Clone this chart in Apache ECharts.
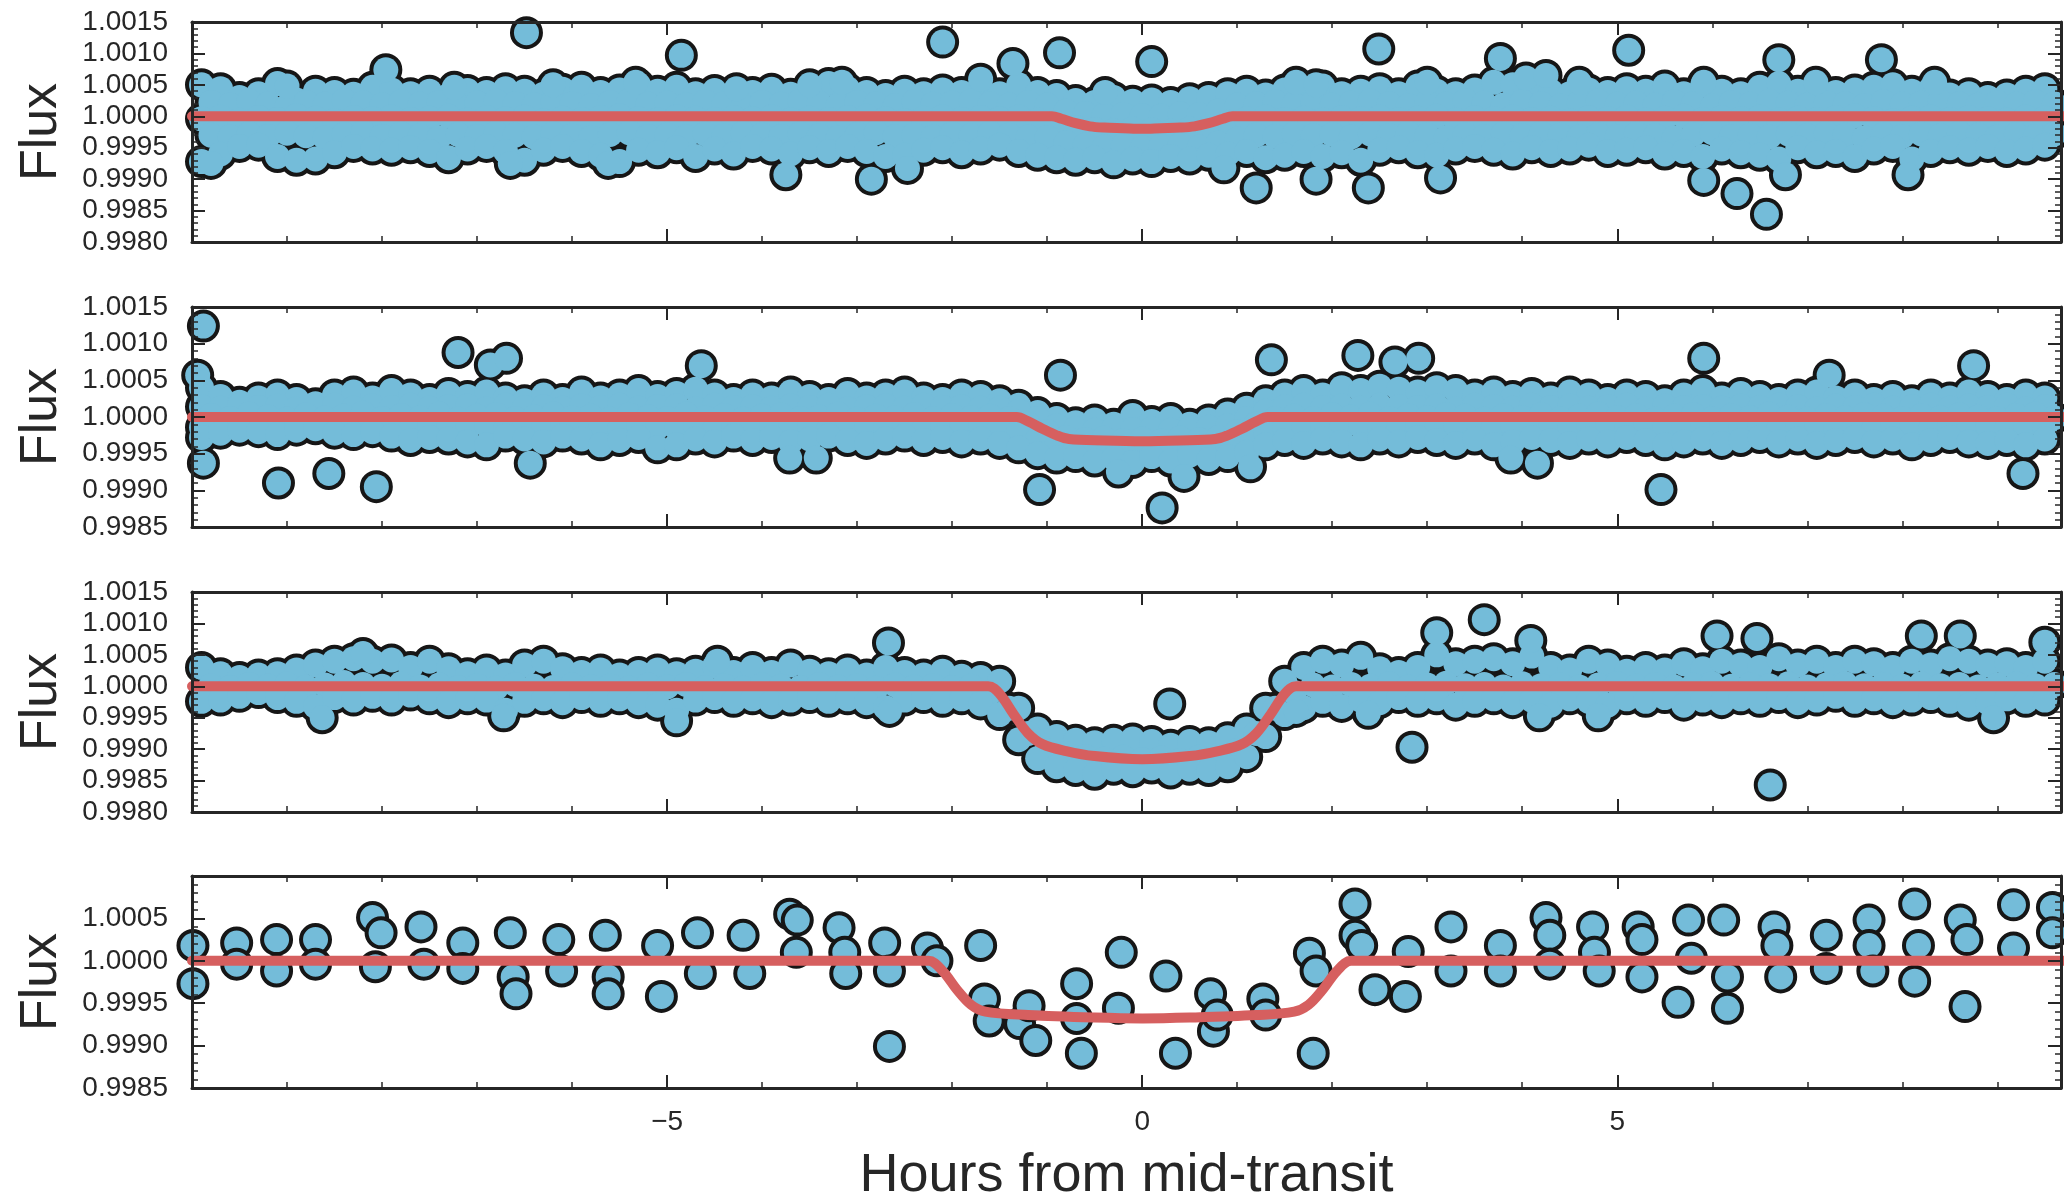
<!DOCTYPE html>
<html><head><meta charset="utf-8">
<script src="https://cdn.jsdelivr.net/npm/echarts@6/dist/echarts.min.js"></script>
<style>html,body{margin:0;padding:0;background:#fff}#c{width:2064px;height:1204px}</style>
</head><body><div id="c"></div><script>
// ---------- data (hours from mid-transit, relative flux) ----------
const denseTimeA = [-9.9,-9.7,-9.5,-9.3,-9.1,-8.9,-8.7,-8.5,-8.3,-8.1,
-7.9,-7.7,-7.5,-7.3,-7.1,-6.9,-6.7,-6.5,-6.3,-6.1,
-5.9,-5.7,-5.5,-5.3,-5.1,-4.9,-4.7,-4.5,-4.3,-4.1,
-3.9,-3.7,-3.5,-3.3,-3.1,-2.9,-2.7,-2.5,-2.3,-2.1,
-1.9,-1.7,-1.5,-1.3,-1.1,-0.9,-0.7,-0.5,-0.3,-0.1,
0.1,0.3,0.5,0.7,0.9,1.1,1.3,1.5,1.7,1.9,
2.1,2.3,2.5,2.7,2.9,3.1,3.3,3.5,3.7,3.9,
4.1,4.3,4.5,4.7,4.9,5.1,5.3,5.5,5.7,5.9,
6.1,6.3,6.5,6.7,6.9,7.1,7.3,7.5,7.7,7.9,
8.1,8.3,8.5,8.7,8.9,9.1,9.3,9.5,9.7];
const denseTimeB = [-9.8,-9.6,-9.4,-9.2,-9.0,-8.8,-8.6,-8.4,-8.2,-8.0,
-7.8,-7.6,-7.4,-7.2,-7.0,-6.8,-6.6,-6.4,-6.2,-6.0,
-5.8,-5.6,-5.4,-5.2,-5.0,-4.8,-4.6,-4.4,-4.2,-4.0,
-3.8,-3.6,-3.4,-3.2,-3.0,-2.8,-2.6,-2.4,-2.2,-2.0,
-1.8,-1.6,-1.4,-1.2,-1.0,-0.8,-0.6,-0.4,-0.2,0.0,
0.2,0.4,0.6,0.8,1.0,1.2,1.4,1.6,1.8,2.0,
2.2,2.4,2.6,2.8,3.0,3.2,3.4,3.6,3.8,4.0,
4.2,4.4,4.6,4.8,5.0,5.2,5.4,5.6,5.8,6.0,
6.2,6.4,6.6,6.8,7.0,7.2,7.4,7.6,7.8,8.0,
8.2,8.4,8.6,8.8,9.0,9.2,9.4,9.6];

// Panel 1
const p1Top = [1.00050,1.00044,1.00030,1.00036,1.00052,1.00026,1.00040,1.00038,1.00035,1.00046,
1.00042,1.00036,1.00040,1.00033,1.00041,1.00038,1.00044,1.00040,1.00035,1.00043,
1.00046,1.00038,1.00042,1.00050,1.00040,1.00046,1.00036,1.00041,1.00034,1.00038,
1.00043,1.00035,1.00040,1.00052,1.00044,1.00038,1.00033,1.00040,1.00036,1.00042,
1.00038,1.00044,1.00036,1.00050,1.00038,1.00033,1.00025,1.00022,1.00030,1.00024,
1.00026,1.00022,1.00028,1.00030,1.00036,1.00040,1.00034,1.00042,1.00038,1.00048,
1.00036,1.00040,1.00044,1.00036,1.00048,1.00040,1.00036,1.00042,1.00054,1.00050,
1.00046,1.00040,1.00036,1.00042,1.00038,1.00044,1.00040,1.00048,1.00036,1.00050,
1.00040,1.00036,1.00046,1.00052,1.00040,1.00044,1.00038,1.00042,1.00046,1.00050,
1.00040,1.00044,1.00034,1.00036,1.00030,1.00034,1.00040,1.00044,1.00048];
const p1Upper = [1.00022,1.00018,1.00024,1.00020,1.00016,1.00022,1.00019,1.00025,1.00021,1.00018,
1.00023,1.00019,1.00022,1.00017,1.00021,1.00024,1.00020,1.00018,1.00023,1.00020,
1.00017,1.00022,1.00025,1.00019,1.00021,1.00018,1.00023,1.00020,1.00016,1.00022,
1.00019,1.00024,1.00021,1.00018,1.00022,1.00020,1.00017,1.00023,1.00019,1.00021,
1.00024,1.00020,1.00018,1.00022,1.00018,1.00008,1.00004,1.00002,1.00003,1.00001,
1.00000,1.00004,1.00003,1.00008,1.00018,1.00020,1.00023,1.00019,1.00022,1.00018,
1.00021,1.00024,1.00020,1.00017,1.00022,1.00019,1.00025,1.00021,1.00018,1.00023,
1.00020,1.00017,1.00022,1.00024,1.00019,1.00021,1.00018,1.00023,1.00020,1.00016,
1.00022,1.00019,1.00024,1.00021,1.00018,1.00022,1.00020,1.00017,1.00023,1.00019,
1.00021,1.00024,1.00020,1.00018,1.00022,1.00019,1.00023,1.00020];
const p1Middle = [0.99996,0.99999,0.99994,0.99998,0.99995,1.00001,0.99997,0.99993,0.99998,0.99996,
0.99999,0.99995,0.99997,1.00000,0.99994,0.99998,0.99996,0.99999,0.99993,0.99997,
0.99995,0.99998,1.00001,0.99996,0.99994,0.99999,0.99997,0.99995,0.99998,0.99996,
0.99999,0.99994,0.99997,0.99995,0.99998,1.00000,0.99996,0.99993,0.99997,0.99999,
0.99995,0.99998,0.99996,0.99999,0.99994,0.99990,0.99982,0.99979,0.99977,0.99980,
0.99978,0.99976,0.99980,0.99983,0.99991,0.99996,0.99999,0.99995,0.99997,0.99994,
0.99998,0.99996,0.99999,0.99995,0.99997,1.00000,0.99994,0.99998,0.99996,0.99999,
0.99995,0.99997,0.99993,0.99998,0.99996,0.99999,0.99994,0.99997,1.00000,0.99995,
0.99998,0.99996,0.99999,0.99994,0.99997,0.99995,0.99998,1.00001,0.99996,0.99993,
0.99997,0.99999,0.99995,0.99998,0.99996,0.99994,0.99999,0.99997,0.99995];
const p1Lower = [0.99970,0.99967,0.99972,0.99968,0.99973,0.99969,0.99966,0.99971,0.99974,0.99968,
0.99972,0.99969,0.99966,0.99971,0.99968,0.99973,0.99970,0.99967,0.99972,0.99969,
0.99966,0.99971,0.99974,0.99968,0.99970,0.99967,0.99972,0.99969,0.99973,0.99970,
0.99968,0.99972,0.99969,0.99966,0.99971,0.99974,0.99968,0.99970,0.99967,0.99972,
0.99969,0.99973,0.99970,0.99967,0.99966,0.99958,0.99954,0.99951,0.99953,0.99950,
0.99952,0.99955,0.99951,0.99957,0.99964,0.99970,0.99968,0.99972,0.99969,0.99971,
0.99967,0.99972,0.99969,0.99973,0.99970,0.99966,0.99971,0.99968,0.99972,0.99969,
0.99973,0.99970,0.99967,0.99971,0.99968,0.99972,0.99969,0.99966,0.99971,0.99974,
0.99968,0.99970,0.99967,0.99972,0.99969,0.99973,0.99970,0.99966,0.99971,0.99968,
0.99972,0.99969,0.99973,0.99970,0.99967,0.99971,0.99968,0.99972];
const p1Bottom = [0.99928,0.99940,0.99952,0.99954,0.99936,0.99930,0.99932,0.99942,0.99952,0.99948,
0.99946,0.99950,0.99944,0.99934,0.99948,0.99952,0.99944,0.99930,0.99946,0.99952,
0.99944,0.99938,0.99928,0.99946,0.99942,0.99950,0.99936,0.99948,0.99940,0.99952,
0.99948,0.99940,0.99950,0.99944,0.99952,0.99944,0.99936,0.99938,0.99946,0.99950,
0.99942,0.99948,0.99954,0.99944,0.99938,0.99934,0.99930,0.99934,0.99926,0.99932,
0.99928,0.99936,0.99932,0.99938,0.99940,0.99944,0.99934,0.99938,0.99944,0.99936,
0.99942,0.99930,0.99946,0.99950,0.99942,0.99938,0.99948,0.99952,0.99946,0.99940,
0.99950,0.99944,0.99948,0.99954,0.99944,0.99946,0.99950,0.99940,0.99944,0.99936,
0.99948,0.99942,0.99938,0.99932,0.99950,0.99942,0.99944,0.99936,0.99948,0.99952,
0.99932,0.99944,0.99950,0.99946,0.99952,0.99944,0.99948,0.99954,0.99950];
const p1Outliers = [[-9.8,0.99925],[-9.0,1.00048],[-7.96,1.00074],[-7.24,1.00046],[-6.65,0.99925],
[-6.48,1.00133],[-6.2,1.00050],[-5.62,0.99925],[-5.33,1.00054],[-4.85,1.00097],[-4.27,1.00044],
[-3.75,0.99907],[-3.5,1.00050],[-3.16,1.00054],[-2.85,0.99900],[-2.47,0.99917],[-2.10,1.00118],
[-1.70,1.00059],[-1.36,1.00084],[-0.87,1.00101],[-0.39,1.00038],[0.10,1.00087],[0.86,0.99918],
[1.20,0.99886],[1.62,1.00054],[1.83,0.99900],[1.83,1.00050],[2.38,0.99886],[2.49,1.00107],
[3.0,1.00054],[3.14,0.99902],[3.77,1.00092],[4.04,1.00061],[4.25,1.00065],[4.6,1.00054],
[5.12,1.00105],[5.91,0.99898],[5.91,1.00054],[6.26,0.99877],[6.57,0.99844],[6.70,1.00090],
[6.77,0.99907],[7.09,1.00054],[7.78,1.00090],[8.06,0.99907],[8.34,1.00054]];
const p1ModelTime = [-10,-0.95,-0.85,-0.7,-0.55,-0.4,-0.2,0,0.2,0.4,0.55,0.7,0.85,0.95,9.7];
const p1ModelFlux = [1,1,0.99996,0.99989,0.99984,0.99982,0.99981,0.99980,0.99981,0.99982,0.99984,0.99989,0.99996,1,1];

// Panel 2
const p2Top = [1.00040,1.00028,1.00020,1.00026,1.00030,1.00024,1.00018,1.00030,1.00034,1.00026,
1.00036,1.00030,1.00024,1.00032,1.00028,1.00034,1.00026,1.00022,1.00030,1.00024,
1.00034,1.00026,1.00030,1.00036,1.00028,1.00032,1.00038,1.00030,1.00024,1.00030,
1.00026,1.00034,1.00028,1.00024,1.00032,1.00026,1.00030,1.00034,1.00026,1.00024,
1.00030,1.00028,1.00022,1.00016,1.00006,0.99998,0.99992,0.99996,0.99990,1.00002,
0.99994,0.99998,0.99990,0.99996,1.00004,1.00012,1.00022,1.00030,1.00036,1.00030,
1.00040,1.00036,1.00042,1.00038,1.00034,1.00040,1.00036,1.00030,1.00034,1.00028,
1.00032,1.00026,1.00034,1.00030,1.00024,1.00030,1.00028,1.00022,1.00030,1.00036,
1.00026,1.00032,1.00028,1.00024,1.00030,1.00034,1.00026,1.00030,1.00024,1.00028,
1.00022,1.00030,1.00026,1.00034,1.00028,1.00024,1.00030,1.00026,1.00032];
const p2Upper = [1.00014,1.00012,1.00016,1.00013,1.00015,1.00011,1.00014,1.00016,1.00012,1.00015,
1.00013,1.00016,1.00012,1.00014,1.00015,1.00011,1.00016,1.00013,1.00014,1.00012,
1.00015,1.00013,1.00016,1.00012,1.00014,1.00015,1.00011,1.00016,1.00013,1.00014,
1.00012,1.00015,1.00013,1.00016,1.00011,1.00014,1.00015,1.00012,1.00016,1.00013,
1.00014,1.00012,1.00012,1.00008,0.99998,0.99988,0.99984,0.99982,0.99985,0.99983,
0.99984,0.99982,0.99985,0.99986,0.99988,0.99998,1.00008,1.00014,1.00016,1.00013,
1.00015,1.00012,1.00016,1.00014,1.00013,1.00015,1.00011,1.00016,1.00014,1.00012,
1.00016,1.00013,1.00015,1.00012,1.00014,1.00016,1.00011,1.00015,1.00013,1.00014,
1.00012,1.00015,1.00013,1.00016,1.00014,1.00011,1.00015,1.00013,1.00016,1.00012,
1.00014,1.00016,1.00012,1.00015,1.00013,1.00016,1.00011,1.00014,1.00015];
const p2Middle = [1.00002,0.99998,1.00004,1.00000,0.99997,1.00003,0.99999,1.00001,1.00005,0.99998,
1.00002,0.99999,1.00004,0.99997,1.00001,1.00003,0.99998,1.00000,1.00004,0.99999,
1.00001,0.99997,1.00003,1.00000,0.99998,1.00004,0.99999,1.00002,0.99997,1.00001,
1.00003,0.99998,1.00000,1.00004,0.99997,1.00001,0.99999,1.00003,0.99998,1.00002,
0.99999,1.00001,0.99998,0.99990,0.99980,0.99972,0.99969,0.99971,0.99968,0.99970,
0.99967,0.99971,0.99969,0.99972,0.99980,0.99990,0.99998,1.00001,0.99998,1.00003,
1.00000,1.00004,0.99998,1.00002,0.99999,1.00003,1.00001,0.99997,1.00002,0.99999,
1.00003,0.99998,1.00001,1.00004,0.99999,1.00002,0.99997,1.00001,1.00003,0.99998,
1.00002,0.99999,1.00004,1.00000,0.99997,1.00002,0.99999,1.00003,1.00001,0.99998,
1.00002,0.99999,1.00003,1.00000,0.99998,1.00002,1.00004,0.99999];
const p2Lower = [0.99986,0.99988,0.99984,0.99987,0.99985,0.99989,0.99986,0.99984,0.99988,0.99985,
0.99987,0.99984,0.99988,0.99986,0.99985,0.99989,0.99984,0.99987,0.99986,0.99988,
0.99985,0.99987,0.99984,0.99988,0.99986,0.99985,0.99989,0.99984,0.99987,0.99986,
0.99988,0.99985,0.99987,0.99984,0.99989,0.99986,0.99985,0.99988,0.99984,0.99987,
0.99986,0.99988,0.99985,0.99980,0.99970,0.99960,0.99956,0.99954,0.99957,0.99955,
0.99956,0.99954,0.99957,0.99958,0.99962,0.99970,0.99980,0.99986,0.99984,0.99987,
0.99985,0.99988,0.99984,0.99986,0.99987,0.99985,0.99989,0.99984,0.99986,0.99988,
0.99984,0.99987,0.99985,0.99988,0.99986,0.99984,0.99989,0.99985,0.99987,0.99986,
0.99988,0.99985,0.99987,0.99984,0.99986,0.99989,0.99985,0.99987,0.99984,0.99988,
0.99986,0.99984,0.99988,0.99985,0.99987,0.99984,0.99989,0.99986,0.99985];
const p2Bottom = [0.99972,0.99978,0.99982,0.99980,0.99976,0.99982,0.99984,0.99978,0.99976,0.99980,
0.99974,0.99968,0.99972,0.99970,0.99966,0.99962,0.99974,0.99970,0.99966,0.99974,
0.99970,0.99962,0.99968,0.99972,0.99958,0.99962,0.99970,0.99966,0.99974,0.99968,
0.99972,0.99966,0.99970,0.99974,0.99968,0.99964,0.99970,0.99974,0.99968,0.99972,
0.99966,0.99970,0.99964,0.99958,0.99950,0.99944,0.99946,0.99940,0.99944,0.99938,
0.99946,0.99940,0.99948,0.99942,0.99946,0.99952,0.99962,0.99968,0.99964,0.99970,
0.99966,0.99962,0.99970,0.99966,0.99972,0.99968,0.99964,0.99970,0.99962,0.99966,
0.99972,0.99968,0.99964,0.99970,0.99966,0.99972,0.99968,0.99962,0.99966,0.99970,
0.99964,0.99968,0.99972,0.99966,0.99970,0.99964,0.99968,0.99972,0.99966,0.99970,
0.99962,0.99968,0.99972,0.99966,0.99964,0.99968,0.99962,0.99970,0.99974];
const p2Outliers = [[-9.88,1.00124],[-9.94,1.00057],[-9.88,0.99937],[-9.09,0.99910],[-8.56,0.99923],
[-8.06,0.99905],[-7.20,1.00088],[-6.86,1.00071],[-6.69,1.00080],[-6.44,0.99937],[-4.64,1.00070],
[-3.71,0.99944],[-3.43,0.99944],[-1.08,0.99901],[-0.86,1.00057],[-0.25,0.99925],[0.21,0.99876],
[0.44,0.99919],[1.14,0.99932],[1.36,1.00078],[2.27,1.00084],[2.66,1.00075],[2.91,1.00080],
[3.88,0.99944],[4.16,0.99937],[5.46,0.99901],[5.91,1.00080],[7.23,1.00057],[8.75,1.00070],[9.27,0.99923]];
const p2ModelTime = [-10,-1.32,-1.2,-1.05,-0.9,-0.77,-0.4,0,0.4,0.77,0.9,1.05,1.2,1.32,9.7];
const p2ModelFlux = [1,1,0.99994,0.99984,0.99975,0.99970,0.99968,0.99967,0.99968,0.99970,0.99975,0.99984,0.99994,1,1];

// Panel 3
const p3Top = [1.00030,1.00020,1.00014,1.00018,1.00020,1.00026,1.00034,1.00040,1.00044,1.00040,
1.00042,1.00030,1.00040,1.00028,1.00020,1.00026,1.00018,1.00034,1.00040,1.00028,
1.00022,1.00026,1.00018,1.00022,1.00026,1.00020,1.00024,1.00032,1.00022,1.00030,
1.00022,1.00034,1.00024,1.00020,1.00026,1.00018,1.00030,1.00022,1.00018,1.00024,
1.00016,1.00014,1.00008,0.99965,0.99932,0.99920,0.99914,0.99910,0.99914,0.99916,
0.99912,0.99906,0.99912,0.99910,0.99918,0.99932,0.99965,1.00008,1.00030,1.00040,
1.00034,1.00046,1.00028,1.00022,1.00030,1.00050,1.00036,1.00040,1.00044,1.00036,
1.00048,1.00030,1.00026,1.00040,1.00034,1.00024,1.00030,1.00026,1.00036,1.00028,
1.00040,1.00034,1.00030,1.00044,1.00034,1.00040,1.00030,1.00040,1.00036,1.00030,
1.00040,1.00034,1.00044,1.00040,1.00034,1.00036,1.00030,1.00040,1.00034];
const p3Middle = [1.00001,0.99998,1.00003,1.00000,1.00004,0.99999,1.00002,1.00006,1.00003,1.00000,
1.00004,0.99999,1.00002,0.99998,1.00001,0.99997,1.00003,1.00000,0.99998,1.00002,
0.99999,1.00001,0.99997,1.00002,0.99999,1.00003,0.99998,1.00001,0.99997,1.00002,
1.00000,0.99998,1.00003,0.99999,1.00001,0.99997,1.00002,0.99999,1.00001,0.99998,
1.00000,0.99990,0.99965,0.99925,0.99898,0.99893,0.99888,0.99884,0.99887,0.99883,
0.99886,0.99882,0.99887,0.99890,0.99898,0.99925,0.99965,0.99990,1.00002,0.99999,
1.00003,1.00000,1.00004,0.99999,1.00002,1.00005,1.00001,1.00003,0.99999,1.00004,
1.00001,1.00003,0.99999,1.00002,1.00004,1.00000,1.00003,0.99999,1.00002,1.00004,
1.00000,1.00003,1.00001,1.00004,0.99999,1.00002,1.00004,1.00001,1.00003,1.00000,
1.00004,1.00001,1.00003,0.99999,1.00002,1.00004,1.00001,1.00003];
const p3Bottom = [0.99976,0.99978,0.99984,0.99990,0.99982,0.99976,0.99968,0.99982,0.99978,0.99984,
0.99978,0.99986,0.99980,0.99974,0.99980,0.99978,0.99962,0.99976,0.99980,0.99974,
0.99982,0.99976,0.99980,0.99974,0.99970,0.99962,0.99978,0.99982,0.99976,0.99980,
0.99974,0.99978,0.99982,0.99976,0.99980,0.99974,0.99966,0.99978,0.99982,0.99976,
0.99980,0.99972,0.99955,0.99915,0.99885,0.99872,0.99866,0.99860,0.99868,0.99864,
0.99870,0.99862,0.99868,0.99866,0.99872,0.99888,0.99920,0.99955,0.99966,0.99976,
0.99968,0.99978,0.99974,0.99982,0.99976,0.99980,0.99970,0.99976,0.99980,0.99974,
0.99978,0.99970,0.99980,0.99976,0.99970,0.99980,0.99976,0.99982,0.99970,0.99978,
0.99974,0.99980,0.99976,0.99982,0.99974,0.99978,0.99984,0.99976,0.99980,0.99974,
0.99978,0.99982,0.99976,0.99970,0.99974,0.99980,0.99976,0.99978,0.99970];
const p3Outliers = [[-8.63,0.99950],[-8.20,1.00052],[-6.72,0.99953],[-4.90,0.99945],[-4.47,1.00040],
[-2.67,1.00069],[-2.66,0.99960],[0.29,0.99972],[1.62,0.99960],[2.38,0.99957],[2.84,0.99903],
[3.10,1.00085],[3.60,1.00106],[4.09,1.00073],[4.18,0.99953],[4.80,0.99953],[6.05,1.00080],
[6.47,1.00076],[6.61,0.99843],[8.20,1.00080],[8.61,1.00080],[8.96,0.99950],[9.50,1.00070]];
const p3ModelTime = [-10,-1.62,-1.5,-1.35,-1.2,-1.05,-0.8,-0.5,0,0.5,0.8,1.05,1.2,1.35,1.5,1.62,9.7];
const p3ModelFlux = [1,1,0.99988,0.99955,0.99925,0.99908,0.99897,0.99889,0.99884,0.99889,0.99897,0.99908,0.99925,0.99955,0.99988,1,1];

// Panel 4
const p4Time = [-9.99,-9.99,-9.53,-9.53,-9.11,-9.11,-8.70,-8.70,-8.10,-8.07,-8.01,-7.59,-7.56,-7.15,-7.15,
-6.65,-6.62,-6.59,-6.14,-6.11,-5.65,-5.62,-5.62,-5.10,-5.06,-4.68,-4.65,-4.20,-4.13,-3.71,-3.64,-3.63,
-3.19,-3.13,-3.12,-2.71,-2.66,-2.66,-2.26,-2.16,-1.70,-1.66,-1.61,-1.29,-1.19,-1.12,-0.69,-0.69,-0.64,
-0.25,-0.22,0.25,0.35,0.72,0.75,0.79,1.27,1.30,1.76,1.80,1.83,2.24,2.24,2.31,2.45,2.77,2.80,3.25,3.25,
3.77,3.77,4.25,4.29,4.29,4.74,4.76,4.81,5.22,5.26,5.26,5.64,5.75,5.78,6.12,6.16,6.16,6.65,6.68,6.72,
7.20,7.20,7.65,7.65,7.69,8.13,8.13,8.17,8.61,8.66,8.68,9.17,9.17,9.58,9.58];
const p4Flux = [1.00018,0.99973,1.00021,0.99996,1.00025,0.99988,1.00025,0.99996,1.00051,0.99993,1.00033,1.00040,0.99996,1.00021,0.99991,
1.00033,0.99981,0.99961,1.00025,0.99988,1.00030,0.99981,0.99961,1.00018,0.99958,1.00033,0.99985,1.00030,0.99985,1.00055,1.00010,1.00048,
1.00039,1.00010,0.99985,1.00021,0.99988,0.99899,1.00015,1.00000,1.00018,0.99955,0.99929,0.99926,0.99947,0.99906,0.99932,0.99973,0.99891,
0.99944,1.00010,0.99982,0.99891,0.99961,0.99917,0.99936,0.99955,0.99936,1.00009,0.99891,0.99988,1.00067,1.00030,1.00018,0.99966,0.99958,1.00011,1.00040,0.99988,
1.00018,0.99988,1.00051,1.00030,0.99996,1.00040,1.00010,0.99988,1.00040,1.00025,0.99981,0.99951,1.00048,1.00003,1.00048,0.99981,0.99944,1.00040,1.00018,0.99981,
1.00030,0.99991,1.00048,1.00018,0.99988,1.00067,0.99976,1.00018,1.00048,0.99946,1.00025,1.00066,1.00015,1.00063,1.00033];
const p4ModelTime = [-10,-2.25,-2.1,-1.95,-1.8,-1.65,-1.2,-0.5,0,0.5,1.2,1.6,1.75,1.9,2.05,2.2,9.7];
const p4ModelFlux = [1,1,0.99988,0.99966,0.99948,0.99940,0.99936,0.99933,0.99932,0.99933,0.99936,0.99940,0.99948,0.99966,0.99988,1,1];

const xTickLabels = {'-5':'\u22125','0':'0','5':'5'};

// ---------- chart ----------
const axisColor = '#262626';
const font = "'Liberation Sans', Arial, Helvetica, sans-serif";
const blue = '#74BCD9', edge = '#161616', red = '#D65F5F';
function pairs(t, f) { return t.map((x, i) => [x, f[i]]); }

const panels = [
  {top: 22, yMin: 0.9980, yMax: 1.0015, showMax: true, layered: true,
   rows: [[denseTimeA,p1Top],[denseTimeB,p1Upper],[denseTimeA,p1Middle],[denseTimeB,p1Lower],[denseTimeA,p1Bottom]],
   extra: p1Outliers, mt: p1ModelTime, mf: p1ModelFlux},
  {top: 307, yMin: 0.9985, yMax: 1.0015, showMax: true, layered: true,
   rows: [[denseTimeA,p2Top],[denseTimeA,p2Upper],[denseTimeB,p2Middle],[denseTimeA,p2Lower],[denseTimeA,p2Bottom]],
   extra: p2Outliers, mt: p2ModelTime, mf: p2ModelFlux},
  {top: 592, yMin: 0.9980, yMax: 1.0015, showMax: true, layered: true,
   rows: [[denseTimeA,p3Top],[denseTimeB,p3Middle],[denseTimeA,p3Bottom]],
   extra: p3Outliers, mt: p3ModelTime, mf: p3ModelFlux},
  {top: 876, yMin: 0.9985, yMax: 1.0010, showMax: false, layered: false,
   rows: [[p4Time,p4Flux]], extra: [], mt: p4ModelTime, mf: p4ModelFlux}
];

const grids = [], xAxes = [], yAxes = [], series = [];
const tickCommon = {
  splitLine: {show: false},
  axisLine: {show: true, onZero: false, lineStyle: {color: axisColor, width: 3}},
  axisTick: {show: true, inside: true, length: 13, lineStyle: {color: axisColor, width: 2}},
  minorTick: {show: true, splitNumber: 5, length: 6, lineStyle: {color: axisColor, width: 1.5}},
  minorSplitLine: {show: false},
  z: 10
};
panels.forEach((P, gi) => {
  const last = gi === panels.length - 1;
  grids.push({left: 192, right: 3, top: P.top, height: 220, show: false});
  const xc = Object.assign({type: 'value', gridIndex: gi, min: -10, max: 9.67, interval: 5}, tickCommon);
  xAxes.push(Object.assign({}, xc, {
    position: 'bottom',
    axisLabel: {show: last, showMinLabel: false, showMaxLabel: false, margin: 20,
      fontSize: 28, color: axisColor, fontFamily: font,
      formatter: v => xTickLabels[String(Math.round(v))] || ''},
    name: last ? 'Hours from mid-transit' : '', nameLocation: 'middle', nameGap: 61,
    nameTextStyle: {fontSize: 54, color: axisColor, fontFamily: font, lineHeight: 54}
  }));
  xAxes.push(Object.assign({}, xc, {position: 'top', axisLabel: {show: false}}));
  const yc = Object.assign({type: 'value', gridIndex: gi, min: P.yMin, max: P.yMax, interval: 0.0005}, tickCommon);
  yAxes.push(Object.assign({}, yc, {
    position: 'left',
    axisLabel: {show: true, showMaxLabel: P.showMax, margin: 24, fontSize: 28, color: axisColor,
      fontFamily: font, formatter: v => v.toFixed(4)},
    name: 'Flux', nameLocation: 'middle', nameGap: 124, nameRotate: 90,
    nameTextStyle: {fontSize: 52, color: axisColor, fontFamily: font, lineHeight: 52}
  }));
  yAxes.push(Object.assign({}, yc, {position: 'right', axisLabel: {show: false}}));

  let pts = [];
  P.rows.forEach(r => { pts = pts.concat(pairs(r[0], r[1])); });
  pts = pts.concat(P.extra);
  const base = {type: 'scatter', xAxisIndex: 2 * gi, yAxisIndex: 2 * gi, data: pts,
    symbol: 'circle', silent: true, clip: true, animation: false, emphasis: {disabled: true}};
  if (P.layered) {
    series.push(Object.assign({}, base, {symbolSize: 25, z: 2,
      itemStyle: {color: blue, opacity: 1, borderColor: edge, borderWidth: 8}}));
    series.push(Object.assign({}, base, {symbolSize: 25, z: 3,
      itemStyle: {color: blue, opacity: 1, borderWidth: 0}}));
  } else {
    series.push(Object.assign({}, base, {symbolSize: 29, z: 2,
      itemStyle: {color: blue, opacity: 1, borderColor: edge, borderWidth: 4}}));
  }
  series.push({type: 'line', xAxisIndex: 2 * gi, yAxisIndex: 2 * gi, data: pairs(P.mt, P.mf),
    showSymbol: false, symbol: 'none', smooth: 0.35, silent: true, z: 5, clip: true,
    lineStyle: {color: red, width: 10, cap: 'round', join: 'round'}, animation: false});
});

const chart = echarts.init(document.getElementById('c'), null, {renderer: 'canvas'});
chart.setOption({
  backgroundColor: '#ffffff', animation: false,
  grid: grids, xAxis: xAxes, yAxis: yAxes, series: series
});
</script></body></html>
